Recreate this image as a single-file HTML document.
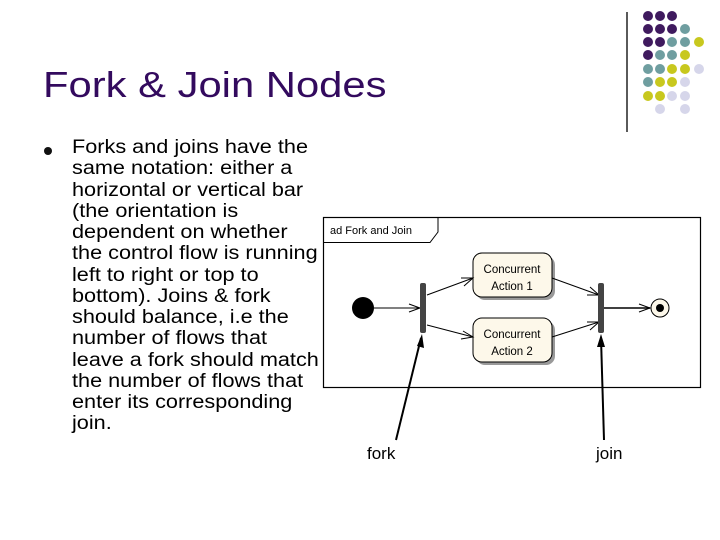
<!DOCTYPE html>
<html><head><meta charset="utf-8"><style>
html,body{margin:0;padding:0;background:#fff;}
body{width:720px;height:540px;position:relative;overflow:hidden;font-family:"Liberation Sans",sans-serif;}
h1{position:absolute;left:43px;top:64px;margin:0;font-size:36px;font-weight:normal;color:#330a5e;white-space:nowrap;line-height:42px;transform:scaleX(1.16);transform-origin:0 0;}
.bul{position:absolute;left:44px;top:147px;width:8px;height:8px;border-radius:50%;background:#111;}
.txt{position:absolute;left:72px;top:137px;font-size:19px;line-height:21.25px;color:#000;white-space:nowrap;transform:scaleX(1.14);transform-origin:0 0;}
</style></head><body>
<h1>Fork &amp; Join Nodes</h1>
<div class="bul"></div>
<div class="txt">Forks and joins have the<br>same notation: either a<br>horizontal or vertical bar<br>(the orientation is<br>dependent on whether<br>the control flow is running<br>left to right or top to<br>bottom). Joins &amp; fork<br>should balance, i.e the<br>number of flows that<br>leave a fork should match<br>the number of flows that<br>enter its corresponding<br>join.</div>
<svg width="720" height="540" style="position:absolute;left:0;top:0" xmlns="http://www.w3.org/2000/svg">
<line x1="627" y1="12" x2="627" y2="132" stroke="#000" stroke-width="1.3"/>
<g>
<circle cx="648" cy="16" r="5" fill="#3f1a5e"/><circle cx="660" cy="16" r="5" fill="#3f1a5e"/><circle cx="672" cy="16" r="5" fill="#3f1a5e"/>
<circle cx="648" cy="29" r="5" fill="#3f1a5e"/><circle cx="660" cy="29" r="5" fill="#3f1a5e"/><circle cx="672" cy="29" r="5" fill="#3f1a5e"/><circle cx="685" cy="29" r="5" fill="#6f9ea0"/>
<circle cx="648" cy="42" r="5" fill="#3f1a5e"/><circle cx="660" cy="42" r="5" fill="#3f1a5e"/><circle cx="672" cy="42" r="5" fill="#6f9ea0"/><circle cx="685" cy="42" r="5" fill="#6f9ea0"/><circle cx="699" cy="42" r="5" fill="#c8c81e"/>
<circle cx="648" cy="55" r="5" fill="#3f1a5e"/><circle cx="660" cy="55" r="5" fill="#6f9ea0"/><circle cx="672" cy="55" r="5" fill="#6f9ea0"/><circle cx="685" cy="55" r="5" fill="#c8c81e"/>
<circle cx="648" cy="69" r="5" fill="#6f9ea0"/><circle cx="660" cy="69" r="5" fill="#6f9ea0"/><circle cx="672" cy="69" r="5" fill="#c8c81e"/><circle cx="685" cy="69" r="5" fill="#c8c81e"/><circle cx="699" cy="69" r="5" fill="#d6d6ea"/>
<circle cx="648" cy="82" r="5" fill="#6f9ea0"/><circle cx="660" cy="82" r="5" fill="#c8c81e"/><circle cx="672" cy="82" r="5" fill="#c8c81e"/><circle cx="685" cy="82" r="5" fill="#d6d6ea"/>
<circle cx="648" cy="96" r="5" fill="#c8c81e"/><circle cx="660" cy="96" r="5" fill="#c8c81e"/><circle cx="672" cy="96" r="5" fill="#d6d6ea"/><circle cx="685" cy="96" r="5" fill="#d6d6ea"/>
<circle cx="660" cy="109" r="5" fill="#d6d6ea"/><circle cx="685" cy="109" r="5" fill="#d6d6ea"/>
</g>
<rect x="323.5" y="217.5" width="377" height="170" fill="#fff" stroke="#000" stroke-width="1.2"/>
<path d="M323.5 242.5 H430 L438 232 V217.5" fill="none" stroke="#000" stroke-width="1"/>
<text x="330" y="234" font-family="Liberation Sans,sans-serif" font-size="11" fill="#000">ad Fork and Join</text>
<circle cx="363" cy="308" r="11" fill="#000"/>
<line x1="374" y1="308" x2="420" y2="308" stroke="#000" stroke-width="1"/>
<path d="M409 304 L420 308 L409 312" fill="none" stroke="#000"/>
<rect x="420" y="283" width="6" height="50" rx="2" fill="#444"/>
<rect x="476" y="256" width="79" height="44" rx="9" fill="#999"/>
<rect x="473" y="253" width="79" height="44" rx="9" fill="#fdf8ea" stroke="#000"/>
<text x="512" y="273" text-anchor="middle" font-family="Liberation Sans,sans-serif" font-size="11.5">Concurrent</text>
<text x="512" y="290" text-anchor="middle" font-family="Liberation Sans,sans-serif" font-size="11.5">Action 1</text>
<rect x="476" y="321" width="79" height="44" rx="9" fill="#999"/>
<rect x="473" y="318" width="79" height="44" rx="9" fill="#fdf8ea" stroke="#000"/>
<text x="512" y="338" text-anchor="middle" font-family="Liberation Sans,sans-serif" font-size="11.5">Concurrent</text>
<text x="512" y="355" text-anchor="middle" font-family="Liberation Sans,sans-serif" font-size="11.5">Action 2</text>
<line x1="427" y1="295" x2="473" y2="278" stroke="#000"/>
<path d="M461 278 L473 278 L464 286" fill="none" stroke="#000"/>
<line x1="427" y1="325" x2="473" y2="337" stroke="#000"/>
<path d="M463 331 L473 337 L461 339" fill="none" stroke="#000"/>
<line x1="552" y1="278" x2="599" y2="295" stroke="#000"/>
<path d="M590 287 L599 295 L587 295" fill="none" stroke="#000"/>
<line x1="552" y1="337" x2="599" y2="322" stroke="#000"/>
<path d="M587 322 L599 322 L590 330" fill="none" stroke="#000"/>
<rect x="598" y="283" width="6" height="50" rx="2" fill="#444"/>
<line x1="604" y1="308" x2="650" y2="308" stroke="#000" stroke-width="1.5"/>
<path d="M639 304 L650 308 L639 312" fill="none" stroke="#000"/>
<circle cx="660" cy="308" r="9" fill="#fdf8ea" stroke="#000"/>
<circle cx="660" cy="308" r="4" fill="#000"/>
<line x1="396" y1="440" x2="421" y2="338" stroke="#000" stroke-width="2"/>
<path d="M417 346 L422 334 L424 348 Z" fill="#000"/>
<line x1="604" y1="440" x2="601" y2="338" stroke="#000" stroke-width="2"/>
<path d="M597 347 L601 334 L605 347 Z" fill="#000"/>
<text x="367" y="459" font-family="Liberation Sans,sans-serif" font-size="17">fork</text>
<text x="596" y="459" font-family="Liberation Sans,sans-serif" font-size="17">join</text>
</svg>
</body></html>
